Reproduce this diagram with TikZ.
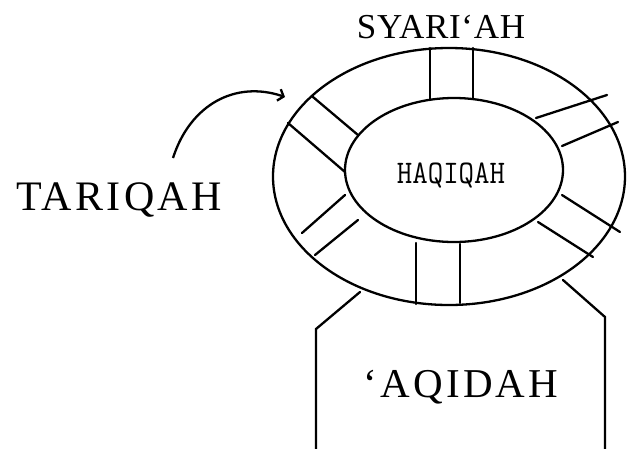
\documentclass[tikz,border=0pt]{standalone}
\usepackage{fontspec}
\setmainfont{Liberation Serif}
\usetikzlibrary{shapes.geometric,arrows.meta}
\tikzset{
  ring/.style={draw, ellipse, line width=2.3pt, inner sep=0pt},
  spoke/.style={line width=2.3pt, line cap=round},
  label/.style={inner sep=0pt, anchor=base},
}
\begin{document}
\begin{tikzpicture}[x=1pt,y=-1pt]
\useasboundingbox (0,0) rectangle (627,448);
% rings
\node[ring, minimum width=352pt, minimum height=257pt] (outer) at (449,176.5) {};
\node[ring, minimum width=218pt, minimum height=144pt] (inner) at (454,170) {};
\node[label] (haq) at (451,183) {\scalebox{1}[1.1]{\ttfamily\fontsize{30}{34}\selectfont HAQIQAH}};
% spokes
\draw[spoke] (430,48) -- (430,99);
\draw[spoke] (473,48) -- (473,98);
\draw[spoke] (536,118) -- (607,95);
\draw[spoke] (562,146) -- (618,122);
\draw[spoke] (562,195) -- (620,232);
\draw[spoke] (538,222) -- (593,257);
\draw[spoke] (416,243) -- (416,304);
\draw[spoke] (460,244) -- (460,303);
\draw[spoke] (302,233) -- (345,195);
\draw[spoke] (315,255) -- (358,220);
\draw[spoke] (313,97) -- (358,135);
\draw[spoke] (288,123) -- (345,172);
% base
\coordinate (bl1) at (360,292);
\coordinate (bl2) at (316,329);
\coordinate (bl3) at (316,449);
\coordinate (br1) at (563,280);
\coordinate (br2) at (605,317);
\coordinate (br3) at (605,449);
\draw[spoke] (bl1) -- (bl2) -- (bl3);
\draw[spoke] (br1) -- (br2) -- (br3);
% labels
\node[label] (syar) at (441,38) {\fontsize{35}{40}\selectfont\addfontfeatures{LetterSpace=2}SYARI‘AH};
\node[label] (tar) at (119,210) {\fontsize{42}{48}\selectfont\addfontfeatures{LetterSpace=8}TARIQAH};
\node[label] (aqi) at (461,397) {\fontsize{41}{46}\selectfont\addfontfeatures{LetterSpace=8}‘AQIDAH};
% arrow
\coordinate (arrs) at (173,158);
\coordinate (arre) at (285,97);
\draw[line width=2.3pt, -{Straight Barb[length=5pt,width=12pt]}] (arrs) .. controls (190,105) and (235,80) .. (arre);
\end{tikzpicture}
\end{document}
